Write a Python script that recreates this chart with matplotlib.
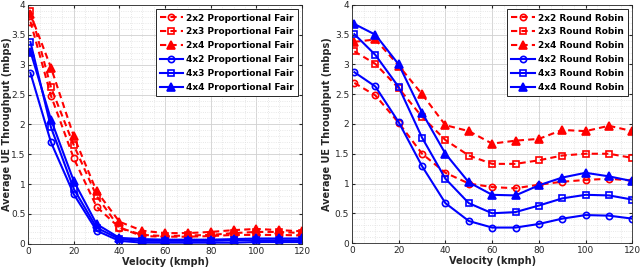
import matplotlib
matplotlib.use('Agg')
import matplotlib.pyplot as plt
from matplotlib.ticker import MultipleLocator, FormatStrFormatter

velocity = [1, 10, 20, 30, 40, 50, 60, 70, 80, 90, 100, 110, 120]

pf_labels = ['2x2 Proportional Fair', '2x3 Proportional Fair', '2x4 Proportional Fair',
             '4x2 Proportional Fair', '4x3 Proportional Fair', '4x4 Proportional Fair']
pf_2x2 = [3.72, 2.48, 1.43, 0.62, 0.27, 0.13, 0.12, 0.12, 0.13, 0.15, 0.15, 0.15, 0.14]
pf_2x3 = [3.90, 2.62, 1.65, 0.80, 0.27, 0.15, 0.13, 0.14, 0.15, 0.18, 0.20, 0.20, 0.18]
pf_2x4 = [3.85, 2.95, 1.80, 0.88, 0.37, 0.22, 0.18, 0.18, 0.20, 0.23, 0.25, 0.23, 0.21]
pf_4x2 = [2.86, 1.70, 0.83, 0.22, 0.05, 0.02, 0.02, 0.02, 0.02, 0.02, 0.03, 0.03, 0.03]
pf_4x3 = [3.38, 1.95, 0.92, 0.27, 0.08, 0.05, 0.05, 0.05, 0.05, 0.06, 0.06, 0.06, 0.06]
pf_4x4 = [3.22, 2.08, 1.05, 0.33, 0.10, 0.08, 0.07, 0.07, 0.07, 0.08, 0.09, 0.09, 0.09]

rr_labels = ['2x2 Round Robin', '2x3 Round Robin', '2x4 Round Robin',
             '4x2 Round Robin', '4x3 Round Robin', '4x4 Round Robin']
rr_2x2 = [2.69, 2.48, 2.02, 1.50, 1.18, 1.00, 0.94, 0.92, 0.98, 1.03, 1.06, 1.08, 1.05]
rr_2x3 = [3.22, 3.01, 2.60, 2.12, 1.73, 1.47, 1.33, 1.33, 1.39, 1.47, 1.50, 1.50, 1.43]
rr_2x4 = [3.38, 3.42, 2.98, 2.50, 1.98, 1.88, 1.67, 1.72, 1.75, 1.90, 1.88, 1.97, 1.88]
rr_4x2 = [2.87, 2.63, 2.03, 1.29, 0.67, 0.37, 0.26, 0.26, 0.32, 0.41, 0.47, 0.46, 0.41]
rr_4x3 = [3.51, 3.16, 2.62, 1.77, 1.08, 0.67, 0.50, 0.52, 0.63, 0.75, 0.81, 0.80, 0.73]
rr_4x4 = [3.68, 3.50, 3.00, 2.19, 1.50, 1.02, 0.81, 0.80, 0.97, 1.10, 1.18, 1.12, 1.04]

markers = ['o', 's', '^', 'o', 's', '^']
msizes = [4.5, 4.5, 5.5, 4.5, 4.5, 5.5]

fig = plt.figure(figsize=(6.4, 2.74), dpi=100)
ax1 = fig.add_axes([0.044, 0.11, 0.428, 0.872])
ax2 = fig.add_axes([0.55, 0.113, 0.438, 0.869])


def draw(ax, series, labels, ylab_x):
    for i, (ys, lab) in enumerate(zip(series, labels)):
        color = 'red' if i < 3 else 'blue'
        ls = (0, (3, 2)) if i < 3 else '-'
        face = color if markers[i] == '^' else 'none'
        ax.plot(velocity, ys, color=color, linestyle=ls, linewidth=1.5,
                marker=markers[i], markersize=msizes[i], markerfacecolor=face,
                markeredgewidth=1.2, label=lab)
    ax.set_xlim(0, 120)
    ax.set_ylim(0, 4)
    ax.xaxis.set_major_locator(MultipleLocator(20))
    ax.xaxis.set_minor_locator(MultipleLocator(5))
    ax.yaxis.set_major_locator(MultipleLocator(0.5))
    ax.yaxis.set_minor_locator(MultipleLocator(0.1))
    ax.yaxis.set_major_formatter(FormatStrFormatter('%g'))
    ax.grid(which='major', color='#d0d0d0', linestyle='-', linewidth=0.6)
    ax.grid(which='minor', color='#e0e0e0', linestyle=':', linewidth=0.6)
    ax.set_axisbelow(True)
    ax.tick_params(which='both', direction='in', top=True, right=True, labelsize=6.5,
                   colors='#262626', length=2.5, pad=2)
    ax.tick_params(which='minor', length=0)
    for s in ax.spines.values():
        s.set_color('#262626')
        s.set_linewidth(0.6)
    ax.set_xlabel('Velocity (kmph)', fontsize=7, fontweight='bold', color='#262626', labelpad=1)
    ax.set_ylabel('Average UE Throughput (mbps)', fontsize=7, fontweight='bold', color='#262626')
    ax.yaxis.set_label_coords(ylab_x, 0.5)
    leg = ax.legend(loc='upper right', prop={'weight': 'bold', 'size': 6.5},
                    fancybox=False, edgecolor='#262626', framealpha=1,
                    handlelength=2.6, labelspacing=0.55, borderpad=0.45,
                    handletextpad=0.3, borderaxespad=0.5)
    leg.get_frame().set_linewidth(0.7)


draw(ax1, [pf_2x2, pf_2x3, pf_2x4, pf_4x2, pf_4x3, pf_4x4], pf_labels, -0.058)
draw(ax2, [rr_2x2, rr_2x3, rr_2x4, rr_4x2, rr_4x3, rr_4x4], rr_labels, -0.072)

fig.savefig('out.png', dpi=100)
